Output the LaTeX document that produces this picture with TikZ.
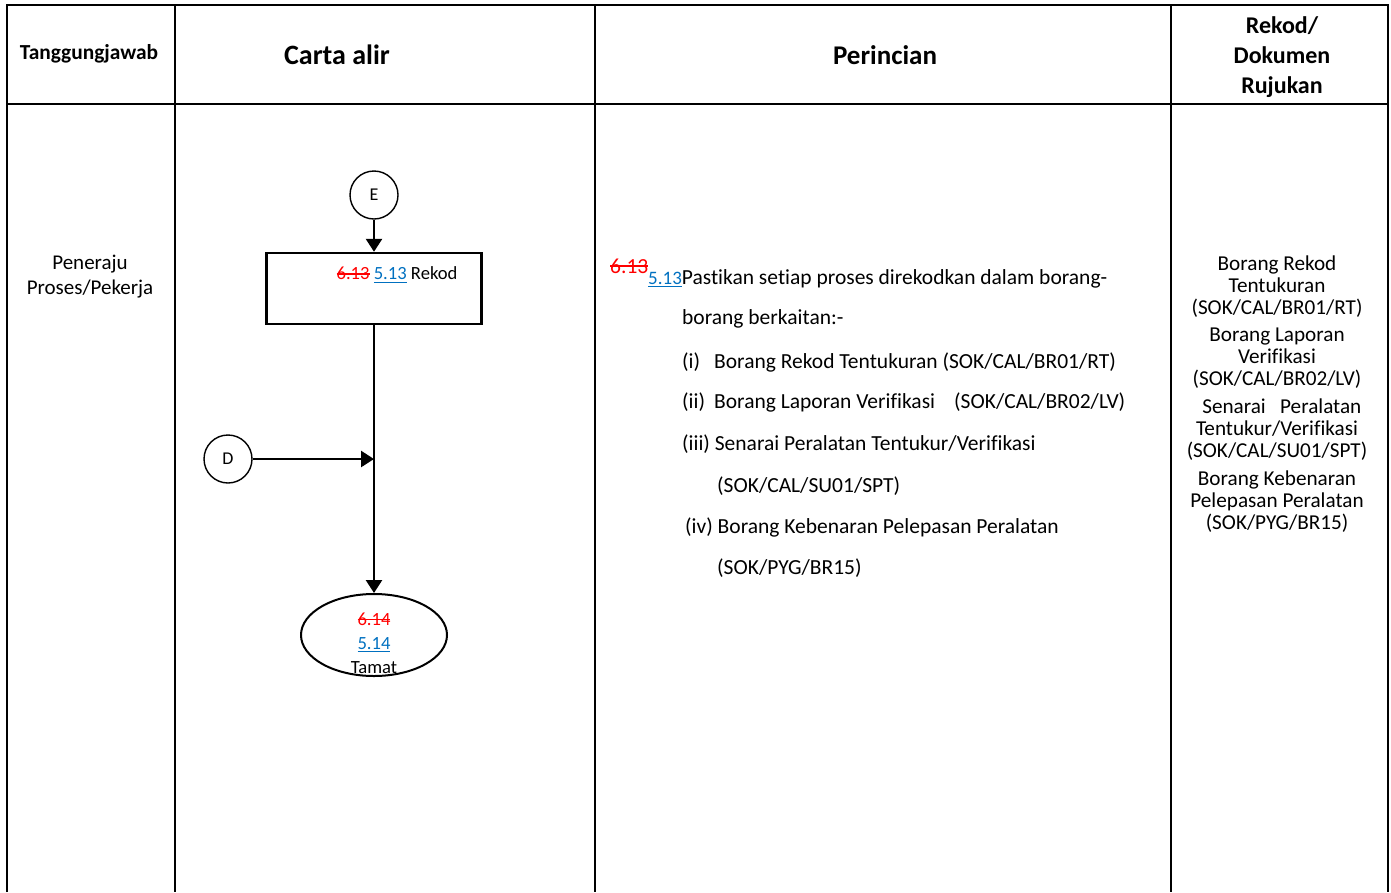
\documentclass[tikz,border=0pt]{standalone}
\usepackage{fontspec}
\setmainfont{Carlito}[Ligatures=NoCommon]
\usetikzlibrary{arrows.meta,shapes.geometric}
\definecolor{delred}{HTML}{FF0000}
\definecolor{insblue}{HTML}{0070C0}
\newsavebox{\NumBox}
\newcommand{\Old}[1]{\textcolor{delred}{\sbox{\NumBox}{#1}\rlap{\rule[0.28em]{\wd\NumBox}{0.07em}}\usebox{\NumBox}}}
\newcommand{\New}[1]{\textcolor{insblue}{\sbox{\NumBox}{#1}\rlap{\rule[-0.16em]{\wd\NumBox}{0.07em}}\usebox{\NumBox}}}
\newcommand{\FlowX}{374}

\begin{document}
\begin{tikzpicture}[x=1pt,y=-1pt,
  grid/.style={line width=2.6pt},
  flow/.style={line width=2.6pt,-{Triangle[length=13pt,width=16pt]}},
  conn/.style={draw,circle,line width=1.4pt,minimum size=48pt,inner sep=0pt,font=\fontsize{18}{20}\selectfont},
  head/.style={font=\fontsize{28}{30}\selectfont\bfseries,align=center},
  body/.style={font=\fontsize{21.5}{24}\selectfont},
  small/.style={font=\fontsize{18.6}{24}\selectfont,align=center},
  rujuk/.style={font=\fontsize{21.2}{22}\selectfont,align=center}]
\useasboundingbox (0,0) rectangle (1391,892);

% table lines
\draw[grid] (7,892) -- (7,5) -- (1388,5) -- (1388,892);
\draw[grid] (7,104) -- (1388,104);
\draw[grid] (175,5) -- (175,892);
\draw[grid] (595,5) -- (595,892);
\draw[grid] (1171,5) -- (1171,892);

% headers
\node[head,font=\fontsize{21.4}{24}\selectfont\bfseries] (hTanggung) at (89,54) {Tanggungjawab};
\node[head] (hCarta) at (337,55) {Carta alir};
\node[head,font=\fontsize{27}{30}\selectfont\bfseries] (hPerincian) at (885,55) {Perincian};
\node[head,font=\fontsize{24}{30}\selectfont\bfseries] (hRekod) at (1282,57) {Rekod/\\Dokumen\\Rujukan};

% tanggungjawab
\node[body,font=\fontsize{21}{25}\selectfont,align=center] (peneraju) at (90,277) {Peneraju\\Proses/Pekerja};

% carta alir
\node[conn] (E) at (\FlowX,195) {E};
\node[draw,line width=2.4pt,minimum width=215pt,minimum height=71pt] (rekod) at (\FlowX,288.5) {};
\node[small] (rekodtxt) at (397,275) {\Old{6.13} \New{5.13} Rekod};
\node[conn] (D) at (228,459) {D};
\coordinate (j) at (\FlowX,459);
\node[draw,ellipse,line width=2pt,minimum width=146pt,minimum height=82pt,inner sep=0pt] (tamat) at (\FlowX,635) {};
\node[small] (tamattxt) at (\FlowX,643) {\Old{6.14}\\\New{5.14}\\Tamat};

\draw[flow] (E) -- (rekod);
\draw[flow] (rekod) -- (tamat);
\draw[flow] (D) -- (j);

% perincian
\node[body,anchor=base west,inner sep=0pt] (p0) at (610,273) {\Old{6.13}};
\node[body,anchor=base west,inner sep=0pt] (p1) at (648,284) {{\fontsize{19}{24}\selectfont\New{5.13}}Pastikan setiap proses direkodkan dalam borang-};
\node[body,anchor=base west,inner sep=0pt] (p2) at (682,324) {borang berkaitan:-};
\node[body,anchor=base west,inner sep=0pt] (i1) at (682,368) {(i)};
\node[body,anchor=base west,inner sep=0pt] (i1t) at (714,368) {Borang Rekod Tentukuran (SOK/CAL/BR01/RT)};
\node[body,anchor=base west,inner sep=0pt] (i2) at (682,408) {(ii)};
\node[body,anchor=base west,inner sep=0pt] (i2t) at (714,408) {Borang Laporan Verifikasi};
\node[body,anchor=base west,inner sep=0pt] (i2c) at (954,408) {(SOK/CAL/BR02/LV)};
\node[body,anchor=base west,inner sep=0pt] (i3) at (682,450) {(iii) Senarai Peralatan Tentukur/Verifikasi};
\node[body,anchor=base west,inner sep=0pt] (i3c) at (717,492) {(SOK/CAL/SU01/SPT)};
\node[body,anchor=base west,inner sep=0pt] (i4) at (685,533) {(iv) Borang Kebenaran Pelepasan Peralatan};
\node[body,anchor=base west,inner sep=0pt] (i4c) at (717,574) {(SOK/PYG/BR15)};

% rekod / dokumen rujukan
\node[rujuk] (r1) at (1277,287) {Borang Rekod\\Tentukuran\\(SOK/CAL/BR01/RT)};
\node[rujuk] (r2) at (1277,358) {Borang Laporan\\Verifikasi\\(SOK/CAL/BR02/LV)};
\node[rujuk] (r3) at (1277,430) {\ \ Senarai\ \ \ Peralatan\\Tentukur/Verifikasi\hspace{16pt}\\(SOK/CAL/SU01/SPT)};
\node[rujuk] (r4) at (1277,502) {Borang Kebenaran\\Pelepasan Peralatan\\(SOK/PYG/BR15)};

\end{tikzpicture}
\end{document}
